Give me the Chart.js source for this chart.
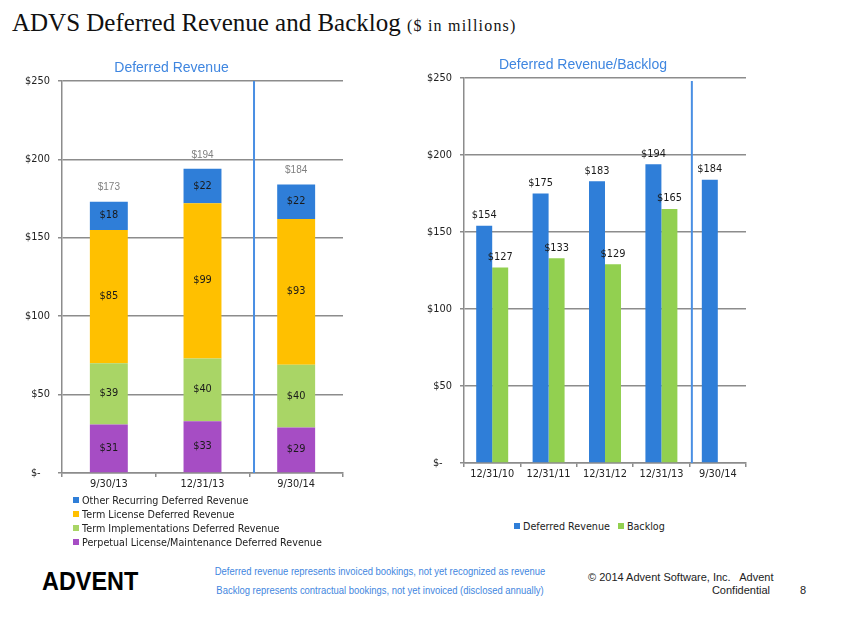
<!DOCTYPE html>
<html>
<head>
<meta charset="utf-8">
<script src="https://cdn.jsdelivr.net/npm/chart.js@4.4.1/dist/chart.umd.min.js"></script>
<style>
  html, body { margin: 0; padding: 0; background: #fff; }
  body { width: 847px; height: 635px; position: relative; overflow: hidden; font-family: "DejaVu Sans", sans-serif; }
  #title { position: absolute; left: 12px; top: 9px; font-family: "Liberation Serif", serif; font-size: 25px; color: #111; white-space: nowrap; }
  #title small { font-size: 16px; letter-spacing: 1.2px; }
  .wrap { position: absolute; }
  #leftWrap { left: 0; top: 50px; width: 414px; height: 450px; }
  #rightWrap { left: 420px; top: 50px; width: 386px; height: 450px; }
  .legend { position: absolute; font-size: 9.6px; color: #222; white-space: nowrap; }
  .legend span.box { display: inline-block; width: 6px; height: 6px; margin-right: 3px; vertical-align: 1px; }
  #leftLegend { left: 73px; top: 494px; line-height: 14px; }
  #rightLegend { left: 514px; top: 520px; line-height: 14px; }
  #rightLegend .item { display: inline-block; margin-right: 8px; }
  #logo { position: absolute; left: 42px; top: 566px; font-family: "Liberation Sans", sans-serif; font-weight: bold; font-size: 26px; color: #000; transform: scaleX(0.9); transform-origin: left center; }
  .note { position: absolute; left: 150px; width: 460px; text-align: center; font-family: "Liberation Sans", sans-serif; font-size: 10.5px; color: #3f86e0; white-space: nowrap; transform: scaleX(0.9); transform-origin: center; }
  #copy1 { position: absolute; left: 588px; top: 571px; font-family: "Liberation Sans", sans-serif; font-size: 11px; color: #222; white-space: pre; }
  #copy2 { position: absolute; right: 77px; top: 584px; font-family: "Liberation Sans", sans-serif; font-size: 11px; color: #222; }
  #page { position: absolute; left: 800px; top: 584px; font-family: "Liberation Sans", sans-serif; font-size: 11px; color: #222; }
</style>
</head>
<body>
<div id="title">ADVS Deferred Revenue and Backlog <small>($ in millions)</small></div>

<div class="wrap" id="leftWrap"><canvas id="leftChart"></canvas></div>
<div class="wrap" id="rightWrap"><canvas id="rightChart"></canvas></div>
<div class="legend" id="leftLegend"></div>
<div class="legend" id="rightLegend"></div>

<div id="logo">ADVENT</div>
<div class="note" style="top:565px">Deferred revenue represents invoiced bookings, not yet recognized as revenue</div>
<div class="note" style="top:584px">Backlog represents contractual bookings, not yet invoiced (disclosed annually)</div>
<div id="copy1">© 2014 Advent Software, Inc.   Advent</div>
<div id="copy2">Confidential</div>
<div id="page">8</div>

<script>
// ---- data ----
var leftCategories = ["9/30/13", "12/31/13", "9/30/14"];
var perpetual = [31, 33, 29];
var termImpl = [39, 40, 40];
var termLicense = [85, 99, 93];
var otherRecurring = [18, 22, 22];

var rightCategories = ["12/31/10", "12/31/11", "12/31/12", "12/31/13", "9/30/14"];
var deferredRevenue = [154, 175, 183, 194, 184];
var backlog = [127, 133, 129, 165, null];

var yTicks = [0, 50, 100, 150, 200, 250];

// ---- styles ----
var BLUE = "#2f7ed8";
var YELLOW = "#ffc000";
var GREEN_L = "#a9d566";
var GREEN_R = "#92d050";
var PURPLE = "#a64dc4";
var GRID = "#8c8c8c";
var DIVIDER = "#4a8fe3";
var TEXT = "#222";

function money(v) { return v === 0 ? "$-   " : "$" + v; }

// draws value labels + the vertical divider line
var valueLabels = {
    id: "valueLabels",
    afterDatasetsDraw: function (chart, args, opts) {
        var ctx = chart.ctx;
        var area = chart.chartArea;
        var x = chart.scales.x.getPixelForValue(opts.dividerAt);
        ctx.save();
        ctx.strokeStyle = DIVIDER;
        ctx.lineWidth = 2;
        ctx.beginPath();
        ctx.moveTo(x, area.top + (opts.dividerTop || 0));
        ctx.lineTo(x, area.bottom);
        ctx.stroke();

        ctx.font = "9.8px 'DejaVu Sans'";
        ctx.fillStyle = "#1a1a1a";
        ctx.textAlign = "center";
        ctx.textBaseline = "middle";
        chart.data.datasets.forEach(function (ds, i) {
            chart.getDatasetMeta(i).data.forEach(function (bar, j) {
                var v = ds.data[j];
                if (v == null) return;
                if (opts.inside) {
                    ctx.fillText("$" + v, bar.x, (bar.y + bar.base) / 2);
                } else {
                    ctx.fillText("$" + v, bar.x, bar.y - 10);
                }
            });
        });

        if (opts.totals) {
            var last = chart.getDatasetMeta(chart.data.datasets.length - 1).data;
            ctx.font = "10px 'Liberation Sans'";
            ctx.fillStyle = "#808080";
            last.forEach(function (bar, j) {
                var total = 0;
                chart.data.datasets.forEach(function (ds) { total += ds.data[j]; });
                ctx.fillText("$" + total, bar.x, bar.y - 14);
            });
        }
        ctx.restore();
    }
};

function yAxis(width) {
    return {
        min: 0, max: 250,
        afterBuildTicks: function (s) { s.ticks = yTicks.map(function (v) { return { value: v }; }); },
        afterFit: function (s) { s.width = width; },
        border: { color: GRID, width: 1.5 },
        grid: { color: GRID, lineWidth: 1.5, tickLength: 4 },
        ticks: { padding: 8, color: TEXT, font: { family: "DejaVu Sans", size: 9.8 }, callback: money }
    };
}

function xAxis(height, stacked) {
    return {
        stacked: stacked,
        afterFit: function (s) { s.height = height; },
        border: { color: GRID, width: 1.5 },
        grid: { color: GRID, lineWidth: 1.5, drawOnChartArea: false, tickLength: 4, offset: true },
        ticks: { padding: 2, color: TEXT, font: { family: "DejaVu Sans", size: 9.8 }, maxRotation: 0 }
    };
}

function titleOpts(text, top, bottom) {
    return {
        display: true, text: text, color: "#3f86e0",
        font: { family: "Liberation Sans", size: 14, weight: "normal" },
        padding: { top: top, bottom: bottom }
    };
}

var leftSets = [
    { label: "Perpetual License/Maintenance Deferred Revenue", data: perpetual, backgroundColor: PURPLE },
    { label: "Term Implementations Deferred Revenue", data: termImpl, backgroundColor: GREEN_L },
    { label: "Term License Deferred Revenue", data: termLicense, backgroundColor: YELLOW },
    { label: "Other Recurring Deferred Revenue", data: otherRecurring, backgroundColor: BLUE }
];

var leftY = yAxis(62);
leftY.stacked = true;

new Chart(document.getElementById("leftChart"), {
    type: "bar",
    data: { labels: leftCategories, datasets: leftSets.map(function (d) {
        return Object.assign({ barPercentage: 0.405, categoryPercentage: 1 }, d);
    }) },
    options: {
        animation: false,
        responsive: true,
        maintainAspectRatio: false,
        layout: { padding: { left: 0, right: 71, top: 0, bottom: 0 } },
        plugins: {
            legend: { display: false },
            tooltip: { enabled: false },
            title: titleOpts("Deferred Revenue", 9.6, 4.6),
            valueLabels: { inside: true, totals: true, dividerAt: 1.55 }
        },
        scales: { x: xAxis(27, true), y: leftY }
    },
    plugins: [valueLabels]
});

var rightSets = [
    { label: "Deferred Revenue", data: deferredRevenue, backgroundColor: BLUE },
    { label: "Backlog", data: backlog, backgroundColor: GREEN_R }
];

new Chart(document.getElementById("rightChart"), {
    type: "bar",
    data: { labels: rightCategories, datasets: rightSets.map(function (d) {
        return Object.assign({ barPercentage: 1, categoryPercentage: 0.567 }, d);
    }) },
    options: {
        animation: false,
        responsive: true,
        maintainAspectRatio: false,
        layout: { padding: { left: 0, right: 60, top: 0, bottom: 0 } },
        plugins: {
            legend: { display: false },
            tooltip: { enabled: false },
            title: titleOpts("Deferred Revenue/Backlog", 6.6, 4.6),
            valueLabels: { inside: false, totals: false, dividerAt: 3.54, dividerTop: 3 }
        },
        scales: { x: xAxis(37, false), y: yAxis(44) }
    },
    plugins: [valueLabels]
});

// html legends built from the same dataset lists
var ll = document.getElementById("leftLegend");
leftSets.slice().reverse().forEach(function (d) {
    ll.innerHTML += '<div><span class="box" style="background:' + d.backgroundColor + '"></span>' + d.label + '</div>';
});
var rl = document.getElementById("rightLegend");
rightSets.forEach(function (d) {
    rl.innerHTML += '<span class="item"><span class="box" style="background:' + d.backgroundColor + '"></span>' + d.label + '</span>';
});
</script>
</body>
</html>
